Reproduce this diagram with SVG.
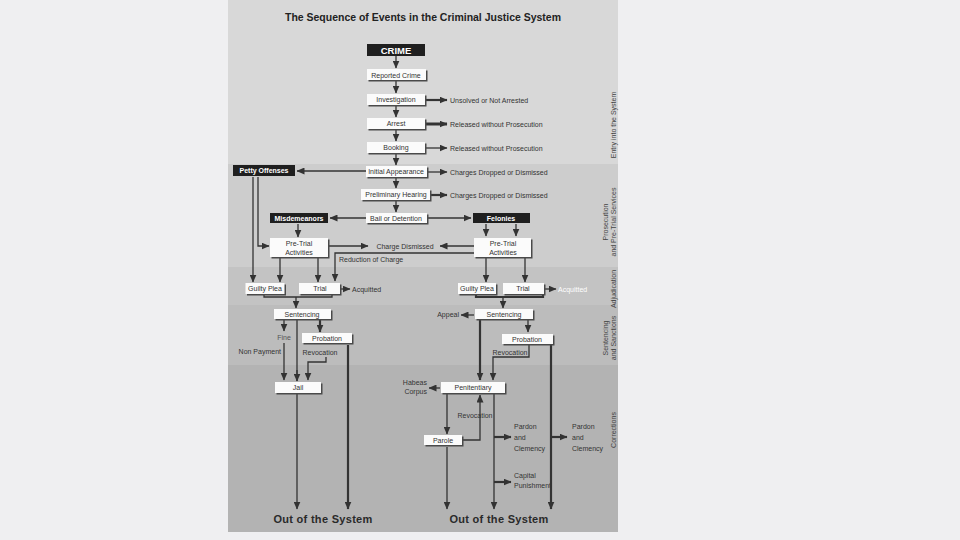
<svg xmlns="http://www.w3.org/2000/svg" width="960" height="540" viewBox="0 0 960 540">
<defs>
<style>
.box{fill:#fbfbfb}
.sh{fill:#4a4a4a}
.blk{fill:#1f1f1f}
.t{font-family:"Liberation Sans",Arial,sans-serif;font-size:7px;fill:#333}
.c{text-anchor:middle}
.e{text-anchor:end}
.bw{font-family:"Liberation Sans",Arial,sans-serif;font-size:7px;fill:#fff;font-weight:bold;text-anchor:middle}
.side{font-family:"Liberation Sans",Arial,sans-serif;font-size:7px;fill:#444;text-anchor:middle}
.out{font-family:"Liberation Sans",Arial,sans-serif;font-size:11px;font-weight:bold;fill:#2a2a2a;text-anchor:middle;letter-spacing:0.3px}
.ln{fill:none;stroke:#333;stroke-width:1.3}
.th{fill:none;stroke:#333;stroke-width:2.2}
.ar{fill:none;stroke:#333;stroke-width:1.3;marker-end:url(#ah)}
.at{fill:none;stroke:#333;stroke-width:2.2;marker-end:url(#ah)}
</style>
<marker id="ah" markerUnits="userSpaceOnUse" markerWidth="8" markerHeight="7" refX="7.5" refY="3.5" orient="auto">
<path d="M0,0 L8,3.5 L0,7 z" fill="#333"/>
</marker>
</defs>
<rect x="0" y="0" width="960" height="540" fill="#efeff1"/>
<g id="panel">
<rect x="228" y="0" width="390" height="164" fill="#d8d8d8"/>
<rect x="228" y="164" width="390" height="103" fill="#cdcdcd"/>
<rect x="228" y="267" width="390" height="38" fill="#c3c3c3"/>
<rect x="228" y="305" width="390" height="60" fill="#bcbcbc"/>
<rect x="228" y="365" width="390" height="167" fill="#b3b3b3"/>
</g>
<text x="423" y="21" font-family="Liberation Sans,Arial,sans-serif" font-size="11" font-weight="bold" fill="#222" text-anchor="middle" textLength="276" lengthAdjust="spacingAndGlyphs">The Sequence of Events in the Criminal Justice System</text>
<g id="side-labels">
<text class="side" transform="translate(616,125) rotate(-90)">Entry into the System</text>
<text class="side" transform="translate(608,222) rotate(-90)">Prosecution</text>
<text class="side" transform="translate(616,222) rotate(-90)">and Pre-Trial Services</text>
<text class="side" transform="translate(616,289) rotate(-90)">Adjudication</text>
<text class="side" transform="translate(608,338) rotate(-90)">Sentencing</text>
<text class="side" transform="translate(616,338) rotate(-90)">and Sanctions</text>
<text class="side" transform="translate(616,430) rotate(-90)">Corrections</text>
</g>
<g id="connectors">
<path class="ar" d="M396,56 V68"/>
<path class="ar" d="M396,81 V93"/>
<path class="ar" d="M396,106 V117"/>
<path class="ar" d="M396,130 V141"/>
<path class="ar" d="M396,154 V165"/>
<path class="ar" d="M396,178 V188"/>
<path class="ar" d="M396,201 V212"/>
<path class="at" d="M426,100 H447"/>
<path class="at" d="M426,124 H447" style="stroke-width:3"/>
<path class="ar" d="M426,148 H447"/>
<path class="ar" d="M428,172 H447"/>
<path class="at" d="M431,195 H447"/>
<path class="ar" d="M366,171 H297"/>
<path class="ar" d="M366,218 H330"/>
<path class="ar" d="M428,218 H471"/>
<path class="ar" d="M298,224 V237"/>
<path class="ar" d="M486,224 V236"/>
<path class="ar" d="M516,224 V236"/>
<path class="ar" d="M329,246 H368"/>
<path class="ar" d="M474,246 H440"/>
<path class="ar" d="M474,253 H335 V281"/>
<path class="ar" d="M253,177 V282"/>
<path class="ar" d="M258,177 V246 H269"/>
<path class="ar" d="M280,258 V282"/>
<path class="ar" d="M318,258 V282"/>
<path class="ar" d="M341,289 H350"/>
<path class="ln" d="M264,295 V297 H332 V295"/>
<path class="ar" d="M296,297 V308"/>
<path class="ar" d="M284,320 V331"/>
<path class="ln" d="M297,320 V381"/>
<path class="ar" d="M297,370 V381"/>
<path class="at" d="M320,320 V332"/>
<path class="ar" d="M284,343 V380"/>
<path class="ar" d="M326,357 V362 H308 V380"/>
<path class="at" d="M348,345 V509"/>
<path class="ar" d="M297,394 V509"/>
<path class="ar" d="M486,258 V282"/>
<path class="ar" d="M525,258 V282"/>
<path class="ar" d="M545,289 H556"/>
<path class="th" d="M476,295 V297 H543 V295"/>
<path class="ar" d="M503,297 V308"/>
<path class="ar" d="M474,315 H461"/>
<path class="at" d="M480,320 V380"/>
<path class="ar" d="M528,320 V332"/>
<path class="ar" d="M529,345 V357 H493 V380"/>
<path class="at" d="M551,345 V509"/>
<path class="ar" d="M440,388 H429"/>
<path class="ar" d="M447,394 V434"/>
<path class="ar" d="M447,447 V509"/>
<path class="ar" d="M463,440 H480 V395"/>
<path class="ar" d="M494,394 V509"/>
<path class="at" d="M494,437 H511"/>
<path class="at" d="M494,482 H511"/>
<path class="at" d="M551,437 H567"/>
</g>
<g id="crime"><rect class="blk" x="367" y="44" width="58" height="12"/><text class="bw" x="396" y="53.5" style="font-size:9.5px">CRIME</text></g>
<g id="reported"><rect class="sh" x="368.5" y="70.5" width="59" height="11"/><rect class="box" x="367" y="69" width="59" height="11"/><text class="t c" x="396" y="77.5">Reported Crime</text></g>
<g id="investigation"><rect class="sh" x="368.5" y="95.5" width="58" height="11"/><rect class="box" x="367" y="94" width="58" height="11"/><text class="t c" x="396" y="102">Investigation</text></g>
<g id="arrest"><rect class="sh" x="368.5" y="119.5" width="58" height="11"/><rect class="box" x="367" y="118" width="58" height="11"/><text class="t c" x="396" y="126">Arrest</text></g>
<g id="booking"><rect class="sh" x="368.5" y="143.5" width="58" height="11"/><rect class="box" x="367" y="142" width="58" height="11"/><text class="t c" x="396" y="150">Booking</text></g>
<g id="initial"><rect class="sh" x="367.5" y="167.5" width="61" height="11"/><rect class="box" x="366" y="166" width="61" height="11"/><text class="t c" x="396" y="174">Initial Appearance</text></g>
<g id="prelim"><rect class="sh" x="362.5" y="190.5" width="69" height="11"/><rect class="box" x="361" y="189" width="69" height="11"/><text class="t c" x="396" y="197">Preliminary Hearing</text></g>
<g id="bail"><rect class="sh" x="367.5" y="214.5" width="61" height="10"/><rect class="box" x="366" y="213" width="61" height="10"/><text class="t c" x="396" y="220.5">Bail or Detention</text></g>
<g id="exits-entry">
<text class="t" x="450" y="102.5">Unsolved or Not Arrested</text>
<text class="t" x="450" y="126.5">Released without Prosecution</text>
<text class="t" x="450" y="150.5">Released without Prosecution</text>
<text class="t" x="450" y="174.5">Charges Dropped or Dismissed</text>
<text class="t" x="450" y="198">Charges Dropped or Dismissed</text>
</g>
<g id="petty"><rect class="blk" x="233" y="165" width="62" height="11"/><text class="bw" x="264" y="173">Petty Offenses</text></g>
<g id="misdemeanors"><rect class="blk" x="270" y="213" width="58" height="10"/><text class="bw" x="299" y="220.5">Misdemeanors</text></g>
<g id="felonies"><rect class="blk" x="473" y="213" width="57" height="10"/><text class="bw" x="501" y="220.5">Felonies</text></g>
<g id="pretrial-l"><rect class="sh" x="271.5" y="239.5" width="58" height="19"/><rect class="box" x="270" y="238" width="58" height="19"/><text class="t c" x="299" y="246">Pre-Trial</text><text class="t c" x="299" y="254.5">Activities</text></g>
<g id="pretrial-r"><rect class="sh" x="475.5" y="239.5" width="57" height="19"/><rect class="box" x="474" y="238" width="57" height="19"/><text class="t c" x="503" y="246">Pre-Trial</text><text class="t c" x="503" y="254.5">Activities</text></g>
<g id="charge-dismissed"><text class="t c" x="405" y="249">Charge Dismissed</text></g>
<g id="reduction"><text class="t" x="339" y="262">Reduction of Charge</text></g>
<g id="guilty-l"><rect class="sh" x="247" y="284.5" width="39" height="11"/><rect class="box" x="245.5" y="283" width="39" height="11"/><text class="t c" x="265" y="291">Guilty Plea</text></g>
<g id="trial-l"><rect class="sh" x="300.5" y="284.5" width="41" height="11"/><rect class="box" x="299" y="283" width="41" height="11"/><text class="t c" x="320" y="291">Trial</text></g>
<g id="acq-l"><text class="t" x="352" y="291.5">Acquitted</text></g>
<g id="sent-l"><rect class="sh" x="275.5" y="310.5" width="57" height="10"/><rect class="box" x="274" y="309" width="57" height="10"/><text class="t c" x="302" y="316.5">Sentencing</text></g>
<g id="fine"><text class="t c" x="284" y="340" style="fill:#555">Fine</text><text class="t e" x="281" y="354">Non Payment</text></g>
<g id="prob-l"><rect class="sh" x="303.5" y="334.5" width="50" height="10"/><rect class="box" x="302" y="333" width="50" height="10"/><text class="t c" x="327" y="340.5">Probation</text></g>
<g id="revoc-l"><text class="t c" x="320" y="355">Revocation</text></g>
<g id="jail"><rect class="sh" x="276.5" y="383.5" width="46" height="11"/><rect class="box" x="275" y="382" width="46" height="11"/><text class="t c" x="298" y="390">Jail</text></g>
<g id="guilty-r"><rect class="sh" x="459.5" y="284.5" width="38" height="11"/><rect class="box" x="458" y="283" width="38" height="11"/><text class="t c" x="477" y="291">Guilty Plea</text></g>
<g id="trial-r"><rect class="sh" x="504.5" y="284.5" width="41" height="11"/><rect class="box" x="503" y="283" width="41" height="11"/><text class="t c" x="523" y="291">Trial</text></g>
<g id="acq-r"><text class="t" x="558" y="291.5" style="fill:#fff">Acquitted</text></g>
<g id="appeal"><text class="t e" x="459" y="317">Appeal</text></g>
<g id="sent-r"><rect class="sh" x="476.5" y="310.5" width="58" height="10"/><rect class="box" x="475" y="309" width="58" height="10"/><text class="t c" x="504" y="316.5">Sentencing</text></g>
<g id="prob-r"><rect class="sh" x="503.5" y="335.5" width="51" height="10"/><rect class="box" x="502" y="334" width="51" height="10"/><text class="t c" x="527" y="341.5">Probation</text></g>
<g id="revoc-r"><text class="t c" x="510" y="355">Revocation</text></g>
<g id="penitentiary"><rect class="sh" x="442.5" y="383.5" width="64" height="11"/><rect class="box" x="441" y="382" width="64" height="11"/><text class="t c" x="473" y="390">Penitentiary</text></g>
<g id="habeas"><text class="t e" x="427" y="385">Habeas</text><text class="t e" x="427" y="394">Corpus</text></g>
<g id="revoc-c"><text class="t c" x="475" y="418">Revocation</text></g>
<g id="parole"><rect class="sh" x="425.5" y="436.5" width="38" height="10"/><rect class="box" x="424" y="435" width="38" height="10"/><text class="t c" x="443" y="442.5">Parole</text></g>
<g id="pardon1"><text class="t" x="514" y="429">Pardon</text><text class="t" x="514" y="440">and</text><text class="t" x="514" y="451">Clemency</text></g>
<g id="pardon2"><text class="t" x="572" y="429">Pardon</text><text class="t" x="572" y="440">and</text><text class="t" x="572" y="451">Clemency</text></g>
<g id="capital"><text class="t" x="514" y="478">Capital</text><text class="t" x="514" y="488">Punishment</text></g>
<g id="out-l"><text class="out" x="323" y="523">Out of the System</text></g>
<g id="out-r"><text class="out" x="499" y="523">Out of the System</text></g>
</svg>
